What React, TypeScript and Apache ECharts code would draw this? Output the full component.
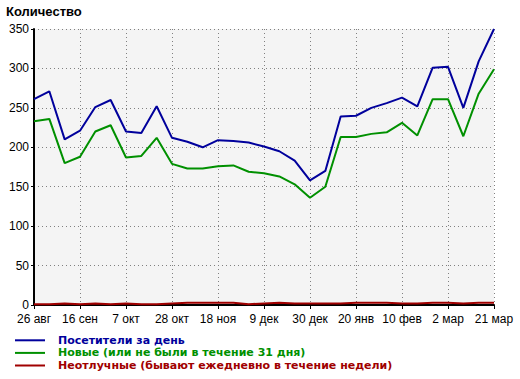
import React, { useEffect, useRef } from "react";
import * as echarts from "echarts";

const tickLabels = ["26 авг", "16 сен", "7 окт", "28 окт", "18 ноя", "9 дек", "30 дек", "20 янв", "10 фев", "2 мар", "21 мар"];

const visitors = [261, 271, 210, 221, 251, 260, 220, 218, 252, 212, 207, 200, 209, 208, 206, 201, 195, 183, 158, 170, 239, 240, 250, 256, 263, 252, 301, 302, 250, 309, 350];
const newVisitors = [233, 236, 180, 188, 220, 228, 187, 189, 212, 179, 173, 173, 176, 177, 169, 167, 163, 153, 136, 150, 213, 213, 217, 219, 231, 215, 261, 261, 214, 268, 299];
const regulars = [1, 1, 2, 1, 2, 1, 2, 1, 1, 2, 3, 3, 3, 3, 1, 2, 3, 2, 2, 2, 2, 3, 3, 3, 2, 2, 3, 3, 2, 3, 3];

const seriesNames = [
  "Посетители за день",
  "Новые (или не были в течение 31 дня)",
  "Неотлучные (бывают ежедневно в течение недели)",
];
const seriesColors = ["#00009c", "#009000", "#a00000"];

const FONT = "'Liberation Sans', Arial, sans-serif";
const LEGEND_FONT = "'DejaVu Sans', Verdana, sans-serif";

export default function App() {
  const ref = useRef<HTMLDivElement>(null);

  useEffect(() => {
    if (!ref.current) return;
    const chart = echarts.init(ref.current, null, { renderer: "svg" });
    const step = 3;
    const categories = visitors.map((_, i) => (i % step === 0 ? tickLabels[i / step] : ""));
    const dataSets = [visitors, newVisitors, regulars];

    chart.setOption({
      animation: false,
      backgroundColor: "#ffffff",
      title: {
        text: "Количество",
        left: 6,
        top: 5,
        padding: 0,
        textStyle: { fontFamily: FONT, fontSize: 13, fontWeight: "bold", color: "#000" },
      },
      legend: {
        orient: "vertical",
        left: 15,
        top: 334,
        padding: 0,
        itemGap: 0,
        itemWidth: 30,
        itemHeight: 2,
        icon: "rect",
        selectedMode: false,
        data: seriesNames.map((n, i) => ({
          name: n,
          textStyle: {
            color: seriesColors[i],
            fontFamily: LEGEND_FONT,
            fontSize: 11,
            fontWeight: "bold",
            lineHeight: 12.6,
            padding: [0, 0, 0, 8],
          },
        })),
      },
      grid: {
        left: 34,
        right: 26,
        top: 29,
        bottom: 74,
        show: true,
        backgroundColor: "#f4f4f4",
        borderWidth: 0,
      },
      xAxis: {
        type: "category",
        boundaryGap: false,
        data: categories,
        axisLine: { show: true, lineStyle: { color: "#000", width: 2 } },
        axisTick: { show: true, interval: step - 1, length: 4, lineStyle: { color: "#000", width: 1 } },
        axisLabel: {
          interval: step - 1,
          margin: 8,
          color: "#000",
          fontFamily: FONT,
          fontSize: 12,
        },
        splitLine: {
          show: true,
          interval: step - 1,
          lineStyle: { color: "#808080", type: [1, 3], width: 1 },
        },
      },
      yAxis: {
        type: "value",
        min: 0,
        max: 350,
        interval: 50,
        axisLine: { show: true, lineStyle: { color: "#000", width: 2 } },
        axisTick: { show: true, length: 3, lineStyle: { color: "#000", width: 1 } },
        axisLabel: { margin: 5, color: "#000", fontFamily: FONT, fontSize: 12 },
        splitLine: { show: true, lineStyle: { color: "#808080", type: [1, 3], width: 1 } },
      },
      series: dataSets.map((d, i) => ({
        name: seriesNames[i],
        type: "line",
        data: d,
        symbol: "none",
        color: seriesColors[i],
        lineStyle: { width: 2, color: seriesColors[i] },
        z: 5 - i,
      })),
    });

    return () => chart.dispose();
  }, []);

  return (
    <div
      ref={ref}
      style={{ position: "fixed", left: 0, top: 0, width: 520, height: 379 }}
    />
  );
}
